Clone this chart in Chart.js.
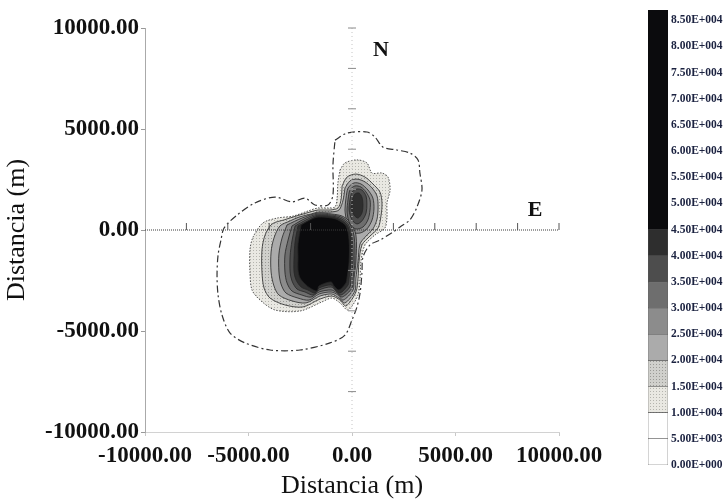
<!DOCTYPE html>
<html>
<head>
<meta charset="utf-8">
<script src="https://cdn.jsdelivr.net/npm/chart.js@4.4.1/dist/chart.umd.min.js"></script>
<style>
  html, body { margin: 0; padding: 0; background: #fff; }
  #wrap { position: relative; width: 726px; height: 502px; overflow: hidden; }
  #plot { position: absolute; left: 0; top: 0; }
  #bar  { position: absolute; left: 640px; top: 0; }
</style>
</head>
<body>
<div id="wrap">
  <canvas id="plot" width="640" height="502"></canvas>
  <canvas id="bar" width="86" height="502"></canvas>
</div>
<script>
// ── Data (metres) ───────────────────────────────────────────────────────────
const crossTicks  = [-8000, -6000, -4000, -2000, 2000, 4000, 6000, 8000, 10000];
const compassText = ['N', 'E'];
const compassX    = [1400, 8840];
const compassY    = [8900, 990];

// colour-bar levels
const levels = [0, 5000, 10000, 15000, 20000, 25000, 30000, 35000, 40000,
                45000, 50000, 55000, 60000, 65000, 70000, 75000, 80000, 85000];
const barTop = 87000;

// contour rings, [x, y]
const contour5000 = [[-820,4450],[-240,4800],[720,4850],[1110,4600],[1500,4100],[2170,3960],
  [2800,3810],[3190,3470],[3280,2820],[3380,1980],[3140,1140],[2800,500],[2320,150],[1980,-100],
  [1350,-500],[870,-740],[530,-1340],[480,-2130],[390,-3120],[240,-3810],[0,-4450],[-340,-5200],
  [-1060,-5590],[-2510,-5940],[-3960,-5940],[-5170,-5590],[-5890,-5100],[-6280,-4210],
  [-6470,-3220],[-6520,-2230],[-6470,-1240],[-6330,-500],[-6180,100],[-5550,740],[-4690,1340],
  [-3720,1630],[-2900,1390],[-2270,1580],[-1790,1240],[-1160,1240],[-920,1730],[-920,3220]];

const contour10000 = [[-580,2970],[-340,3320],[240,3470],[720,3320],[970,2820],[1450,2820],
  [1740,2620],[1840,1980],[1690,1340],[1690,640],[1590,100],[1110,-250],[630,-740],[430,-1580],
  [390,-2380],[290,-3220],[-190,-3960],[-580,-3610],[-970,-3370],[-1450,-3560],[-2510,-4010],
  [-3720,-3960],[-4440,-3470],[-4830,-2970],[-4930,-2080],[-4930,-990],[-4780,-350],[-4300,350],
  [-3620,590],[-2850,690],[-2130,940],[-1640,1090],[-1160,1090],[-820,1140],[-720,1580],[-680,2330]];

const contour15000 = [[-480,2180],[-240,2620],[190,2770],[630,2620],[1010,2280],[1350,1880],
  [1450,1340],[1400,690],[1260,100],[870,-300],[480,-740],[340,-1580],[290,-2380],[190,-3070],
  [-290,-3760],[-580,-3470],[-970,-3270],[-1550,-3420],[-2370,-3810],[-3240,-3710],[-3960,-3370],
  [-4250,-2870],[-4350,-2080],[-4350,-990],[-4200,-250],[-3860,300],[-3280,500],[-2700,690],
  [-2030,890],[-1640,990],[-1060,990],[-680,1090],[-530,1490]];

const contour20000 = [[-340,2080],[-100,2430],[240,2520],[630,2380],[970,2080],[1210,1680],
  [1260,1140],[1210,540],[1010,50],[680,-300],[390,-690],[290,-1580],[190,-2380],[140,-3020],
  [-340,-3610],[-630,-3370],[-970,-3170],[-1550,-3270],[-2220,-3610],[-2900,-3510],[-3530,-3220],
  [-3770,-2770],[-3910,-2080],[-3910,-1090],[-3770,-400],[-3480,200],[-2990,450],[-2560,640],
  [-1980,790],[-1640,890],[-1060,890],[-630,990],[-430,1490]];

const contour25000 = [[-3140,250],[-2420,590],[-1640,840],[-970,790],[-480,690],[-100,400],
  [190,-250],[190,-1580],[100,-2380],[50,-2970],[-430,-3470],[-680,-3220],[-1010,-3070],
  [-1590,-3170],[-2080,-3470],[-2610,-3370],[-3190,-3120],[-3430,-2670],[-3530,-2080],
  [-3530,-1190],[-3380,-400]];
const contour25000N = [[-290,1580],[-190,2080],[100,2330],[430,2280],[770,1980],[1010,1580],
  [1060,1040],[970,500],[720,50],[390,-150],[0,-100],[-240,400],[-340,990]];

const contour30000 = [[-2900,200],[-2320,540],[-1640,790],[-970,740],[-530,640],[-140,350],
  [100,-300],[140,-1580],[50,-2380],[0,-2870],[-480,-3320],[-720,-3120],[-1010,-2970],
  [-1590,-3070],[-1980,-3320],[-2420,-3220],[-2900,-3020],[-3140,-2620],[-3240,-2080],
  [-3240,-1240],[-3090,-500]];
const contour30000N = [[-190,1530],[-100,1980],[140,2180],[430,2130],[680,1880],[870,1490],
  [870,990],[770,500],[530,150],[190,50],[-100,300],[-240,890]];

const contour35000 = [[-2750,200],[-2220,500],[-1640,740],[-970,690],[-580,590],[-190,300],
  [0,-350],[50,-1580],[-50,-2380],[-100,-2820],[-530,-3220],[-770,-3020],[-1010,-2820],
  [-1590,-2970],[-1880,-3220],[-2270,-3070],[-2660,-2920],[-2900,-2520],[-2990,-2080],
  [-2990,-1290],[-2900,-540]];
const contour35000N = [[-100,1490],[0,1880],[240,2030],[480,1980],[680,1680],[720,1290],
  [680,840],[480,450],[240,300],[0,500],[-140,990]];

const contour40000 = [[-2610,200],[-2130,450],[-1640,690],[-970,640],[-630,540],[-240,250],
  [-50,-400],[-50,-1580],[-140,-2380],[-190,-2720],[-580,-3120],[-820,-2920],[-1010,-2720],
  [-1590,-2870],[-1790,-3120],[-2130,-2970],[-2460,-2820],[-2700,-2480],[-2800,-2080],
  [-2800,-1340],[-2750,-590]];
const contour40000N = [[0,1440],[140,1780],[340,1830],[480,1630],[530,1240],[480,840],
  [290,590],[100,740],[-50,1090]];

// everything above 45000 prints solid black
const contour45000 = [[-2460,250],[-2030,500],[-1640,640],[-970,590],[-680,500],[-290,200],
  [-140,-500],[-140,-1580],[-240,-2380],[-290,-2620],[-630,-2970],[-870,-2770],[-1010,-2570],
  [-1590,-2770],[-1690,-3020],[-2030,-2870],[-2270,-2670],[-2510,-2380],[-2610,-1980],
  [-2610,-1390],[-2610,-690]];

// ── Styles ──────────────────────────────────────────────────────────────────
Chart.defaults.font.family = '"Liberation Serif", "Times New Roman", serif';

function stipple(base, dot) {
  const c = document.createElement('canvas');
  c.width = 3; c.height = 3;
  const g = c.getContext('2d');
  g.fillStyle = base; g.fillRect(0, 0, 3, 3);
  g.fillStyle = dot;  g.fillRect(1, 1, 1, 1);
  return g.createPattern(c, 'repeat');
}

// fill of the band that starts at each level
const bandFill = {
  0:     '#ffffff',
  5000:  '#ffffff',
  10000: stipple('#e9e8e2', '#b4b4ae'),
  15000: stipple('#d0d0cc', '#9a9a96'),
  20000: '#ababab',
  25000: '#8c8c8c',
  30000: '#6e6e6e',
  35000: '#4d4d4d',
  40000: '#2e2e2e',
};
const darkFill = '#0b0b0d';
const darkFrom = 45000;

const contourSets = [
  { level: 5000,  rings: [contour5000] },
  { level: 10000, rings: [contour10000] },
  { level: 15000, rings: [contour15000] },
  { level: 20000, rings: [contour20000] },
  { level: 25000, rings: [contour25000, contour25000N] },
  { level: 30000, rings: [contour30000, contour30000N] },
  { level: 35000, rings: [contour35000, contour35000N] },
  { level: 40000, rings: [contour40000, contour40000N] },
  { level: 45000, rings: [contour45000] },
];

function lineStyle(level) {
  if (level === 5000)  return { color: '#333', width: 1.2, dash: [7, 3, 2, 3] };
  if (level === 10000) return { color: '#555', width: 1, dash: [1.5, 1.5] };
  return { color: '#262626', width: 0.8, dash: [] };
}

const datasets = [];
contourSets.forEach(set => {
  const st = lineStyle(set.level);
  set.rings.forEach(ring => {
    datasets.push({
      data: ring.concat([ring[0]]).map(p => ({ x: p[0], y: p[1] })),
      showLine: true,
      fill: 'shape',
      tension: 0.3,
      pointRadius: 0,
      borderColor: st.color,
      borderWidth: st.width,
      borderDash: st.dash,
      backgroundColor: bandFill[set.level] || darkFill,
      order: -set.level,          // higher levels painted on top
    });
  });
});

// ── Cross axes through the source + compass letters ─────────────────────────
const crossAxes = {
  id: 'crossAxes',
  afterDatasetsDraw(chart) {
    const { ctx, scales: { x, y } } = chart;
    const x0 = x.getPixelForValue(0);
    const y0 = y.getPixelForValue(0);
    ctx.save();
    ctx.lineWidth = 1;

    // N axis, faint
    ctx.strokeStyle = '#c4c4c4';
    ctx.setLineDash([1, 3]);
    ctx.beginPath();
    ctx.moveTo(x0, y.getPixelForValue(10000));
    ctx.lineTo(x0, y.getPixelForValue(-10000));
    ctx.stroke();

    // E axis
    ctx.strokeStyle = '#3a3a3a';
    ctx.setLineDash([1, 1]);
    ctx.beginPath();
    ctx.moveTo(x.getPixelForValue(-10000), y0);
    ctx.lineTo(x.getPixelForValue(10000), y0);
    ctx.stroke();

    ctx.setLineDash([]);
    crossTicks.forEach(v => {
      const px = x.getPixelForValue(v);
      ctx.strokeStyle = '#555';
      ctx.beginPath(); ctx.moveTo(px, y0); ctx.lineTo(px, y0 - 7); ctx.stroke();
      const py = y.getPixelForValue(v);
      ctx.strokeStyle = '#8a8a8a';
      ctx.beginPath(); ctx.moveTo(x0 - 4, py); ctx.lineTo(x0 + 4, py); ctx.stroke();
    });

    ctx.fillStyle = '#111';
    ctx.font = 'bold 22px "Liberation Serif", serif';
    ctx.textAlign = 'center';
    ctx.textBaseline = 'middle';
    compassText.forEach((t, i) => {
      ctx.fillText(t, x.getPixelForValue(compassX[i]), y.getPixelForValue(compassY[i]));
    });
    ctx.restore();
  }
};

// ── Main contour plot ───────────────────────────────────────────────────────
const tickFont  = { size: 23, weight: 'bold' };
const titleFont = { size: 26 };

new Chart(document.getElementById('plot'), {
  type: 'scatter',
  data: { datasets },
  plugins: [crossAxes],
  options: {
    responsive: false,
    animation: false,
    devicePixelRatio: 1,
    layout: { padding: { top: 28, right: 81, bottom: 0, left: 0 } },
    plugins: { legend: { display: false }, tooltip: { enabled: false } },
    scales: {
      x: {
        type: 'linear', min: -10000, max: 10000,
        ticks: { stepSize: 5000, callback: v => v.toFixed(2), font: tickFont, color: '#111',
                 padding: 6, maxRotation: 0, minRotation: 0, autoSkip: false },
        grid: { display: true, drawOnChartArea: false, drawTicks: true, tickLength: 4, color: '#c8c8c8' },
        border: { display: true, color: '#d2d2d2', dash: [1, 3] },
        title: { display: true, text: 'Distancia (m)', font: titleFont, color: '#111',
                 padding: { top: 0, bottom: 0 } },
        afterFit: s => { s.height = 70; }
      },
      y: {
        type: 'linear', min: -10000, max: 10000,
        ticks: { stepSize: 5000, callback: v => v.toFixed(2), font: tickFont, color: '#111', padding: 2 },
        grid: { display: true, drawOnChartArea: false, drawTicks: true, tickLength: 4, color: '#999' },
        border: { display: true, color: '#aaaaaa', dash: [1, 3] },
        title: { display: true, text: 'Distancia (m)', font: titleFont, color: '#111',
                 padding: { top: 2, bottom: 0 } },
        afterFit: s => { s.width = 145; }
      }
    }
  }
});

// ── Colour bar ──────────────────────────────────────────────────────────────
function sci(v) {
  if (v === 0) return '0.00E+000';
  const e = Math.floor(Math.log10(v));
  return (v / Math.pow(10, e)).toFixed(2) + 'E+' + String(e).padStart(3, '0');
}

// grey bands one per level, all black levels merged into a single block
const barSets = levels.filter(lo => lo <= darkFrom).map(lo => {
  const i = levels.indexOf(lo);
  const hi = lo === darkFrom ? barTop : levels[i + 1];
  return {
    data: [hi - lo],
    backgroundColor: lo === darkFrom ? darkFill : bandFill[lo],
    borderColor: '#555',
    borderWidth: lo === darkFrom ? 0 : 0.6,
    borderSkipped: false,
    categoryPercentage: 1,
    barPercentage: 1,
  };
});

new Chart(document.getElementById('bar'), {
  type: 'bar',
  data: { labels: [''], datasets: barSets },
  options: {
    responsive: false,
    animation: false,
    devicePixelRatio: 1,
    layout: { padding: { top: 0, right: 0, bottom: 37, left: 8 } },
    plugins: { legend: { display: false }, tooltip: { enabled: false } },
    scales: {
      x: { stacked: true, display: false },
      y: {
        stacked: true, position: 'right', min: 0, max: barTop,
        afterBuildTicks: s => { s.ticks = levels.map(v => ({ value: v })); },
        ticks: { callback: v => sci(v), font: { size: 11.5, weight: 'bold' }, color: '#1b2240', padding: 3 },
        grid: { display: false, drawTicks: false },
        border: { display: false },
        afterFit: s => { s.width = 58; }
      }
    }
  }
});
</script>
</body>
</html>
